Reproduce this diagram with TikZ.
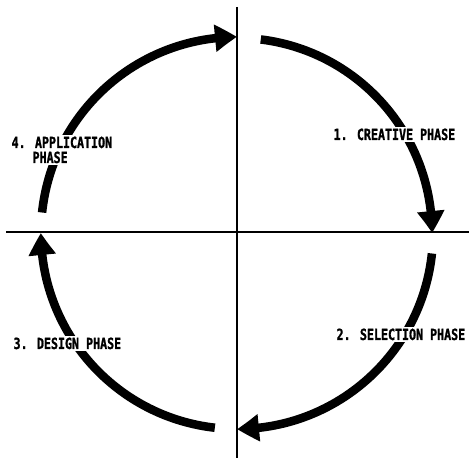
\documentclass[tikz,border=0pt]{standalone}
\usepackage{fontspec}
\newfontfamily\lab[FakeStretch=0.76,FakeBold=1.2]{DejaVu Sans Mono}
\usetikzlibrary{arrows.meta,bending}
\tikzset{
  axisline/.style={line width=1.5pt, black},
  phasearc/.style={line width=6.4pt, black, -{Triangle[length=16.5pt,width=19.5pt,bend]}},
  phaselabel/.style={font=\lab\bfseries\fontsize{11.5}{13}\selectfont, fill=white, inner sep=1pt, anchor=base west}
}
\begin{document}
\begin{tikzpicture}[x=0.75pt,y=0.75pt]
\useasboundingbox (0,0) rectangle (469,458);
\coordinate (c) at (237,225);
\coordinate (vtop) at (237,451);
\coordinate (vbot) at (237,0);
\coordinate (hl) at (6,226);
\coordinate (hr) at (469,226);
\draw[axisline] (vtop) -- (vbot);
\draw[axisline] (hl) -- (hr);
% arcs
\draw[phasearc] (c) ++(83:195) arc[start angle=83, end angle=0, radius=195];
\draw[phasearc] (c) ++(-6:196) arc[start angle=-6, end angle=-90, radius=196];
\draw[phasearc] (c) ++(-96.5:196) arc[start angle=-96.5, end angle=-180, radius=196];
\draw[phasearc] (c) ++(174:196) arc[start angle=174, end angle=90, radius=196];
% labels
\node[phaselabel] (p1) at (332,318) {1. CREATIVE PHASE};
\node[phaselabel] (p2) at (335,118) {2. SELECTION PHASE};
\node[phaselabel] (p3) at (12,109) {3. DESIGN PHASE};
\node[phaselabel] (p4a) at (10,310) {4. APPLICATION};
\node[phaselabel] (p4b) at (31,295) {PHASE};
\end{tikzpicture}
\end{document}
